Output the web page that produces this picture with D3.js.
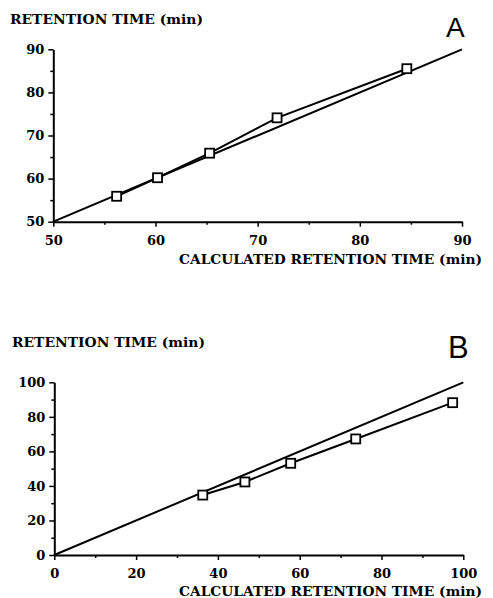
<!DOCTYPE html>
<html>
<head>
<meta charset="utf-8">
<script src="https://cdn.jsdelivr.net/npm/d3@7"></script>
<style>
  body { margin: 0; background: #fff; }
  svg { display: block; }
</style>
</head>
<body>
<script>
// panel A
var calcA = [56.2, 60.2, 65.3, 71.9, 84.6];
var obsA = [55.9, 60.2, 65.9, 74.1, 85.5];
var ticksA = [50, 60, 70, 80, 90];
var minorA = [55, 65, 75, 85];

// panel B
var calcB = [36.3, 46.6, 57.8, 73.7, 97.4];
var obsB = [34.7, 42.3, 53.1, 67.2, 88.2];
var ticksB = [0, 20, 40, 60, 80, 100];
var minorB = [10, 30, 50, 70, 90];

var w = 493;
var h = 598;
var serif = '"DejaVu Serif", serif';

var svg = d3.select('body')
            .append('svg')
            .attr('width', w)
            .attr('height', h);

function drawPanel(o) {
  var x = d3.scaleLinear().domain(o.domain).range([o.left, o.right]);
  var y = d3.scaleLinear().domain(o.domain).range([o.bottom, o.top]);
  var g = svg.append('g');

  // minor ticks
  g.append('g')
    .attr('transform', 'translate(0,' + o.bottom + ')')
    .call(d3.axisBottom(x).tickValues(o.minor).tickSize(3).tickFormat(''))
    .call(s => s.select('.domain').remove());
  g.append('g')
    .attr('transform', 'translate(' + o.left + ',0)')
    .call(d3.axisLeft(y).tickValues(o.minor).tickSize(3).tickFormat(''))
    .call(s => s.select('.domain').remove());

  g.append('g')
    .attr('transform', 'translate(0,' + o.bottom + ')')
    .call(d3.axisBottom(x).tickValues(o.ticks).tickSize(5).tickSizeOuter(0).tickPadding(9));
  g.append('g')
    .attr('transform', 'translate(' + o.left + ',0)')
    .call(d3.axisLeft(y).tickValues(o.ticks).tickSize(5).tickSizeOuter(0).tickPadding(4));

  g.selectAll('.tick line').attr('stroke', '#000').attr('stroke-width', 1.5);
  g.selectAll('.domain').attr('stroke', '#000').attr('stroke-width', 2);
  g.selectAll('.tick text')
    .attr('font-family', serif)
    .attr('font-weight', 'bold')
    .attr('font-size', 13)
    .attr('fill', '#000');

  // identity line
  g.append('line')
    .attr('x1', x(o.domain[0])).attr('y1', y(o.domain[0]))
    .attr('x2', x(o.domain[1])).attr('y2', y(o.domain[1]))
    .attr('stroke', '#000').attr('stroke-width', 2);

  var pts = o.calc.map((c, i) => [c, o.obs[i]]);
  g.append('path')
    .datum(pts)
    .attr('d', d3.line().x(d => x(d[0])).y(d => y(d[1])))
    .attr('fill', 'none')
    .attr('stroke', '#000')
    .attr('stroke-width', 2);

  g.selectAll('rect.pt')
    .data(pts)
    .enter()
    .append('rect')
      .attr('class', 'pt')
      .attr('x', d => x(d[0]) - 4.5)
      .attr('y', d => y(d[1]) - 4.5)
      .attr('width', 9)
      .attr('height', 9)
      .attr('fill', '#fff')
      .attr('stroke', '#000')
      .attr('stroke-width', 1.8);

  g.append('text')
    .text('RETENTION TIME (min)')
    .attr('x', o.ytX).attr('y', o.ytY)
    .attr('font-family', serif)
    .attr('font-weight', 'bold')
    .attr('font-size', 12.5)
    .attr('textLength', 193)
    .attr('lengthAdjust', 'spacingAndGlyphs');

  g.append('text')
    .text('CALCULATED RETENTION TIME (min)')
    .attr('x', 482).attr('y', o.xtY)
    .attr('text-anchor', 'end')
    .attr('font-family', serif)
    .attr('font-weight', 'bold')
    .attr('font-size', 13.5)
    .attr('textLength', 303)
    .attr('lengthAdjust', 'spacingAndGlyphs');

  g.append('text')
    .text(o.letter)
    .attr('x', o.letterX).attr('y', o.letterY)
    .attr('font-family', '"Liberation Sans", Arial, sans-serif')
    .attr('font-size', o.letterSize);
}

drawPanel({
  domain: [50, 90], ticks: ticksA, minor: minorA, calc: calcA, obs: obsA,
  left: 53.3, right: 462, top: 49.3, bottom: 221.7,
  ytX: 10, ytY: 24, xtY: 263.5, letter: 'A', letterX: 446, letterY: 37, letterSize: 28
});

drawPanel({
  domain: [0, 100], ticks: ticksB, minor: minorB, calc: calcB, obs: obsB,
  left: 54.3, right: 463.3, top: 382.3, bottom: 555,
  ytX: 12, ytY: 346.5, xtY: 596, letter: 'B', letterX: 448, letterY: 358, letterSize: 31
});
</script>
</body>
</html>
